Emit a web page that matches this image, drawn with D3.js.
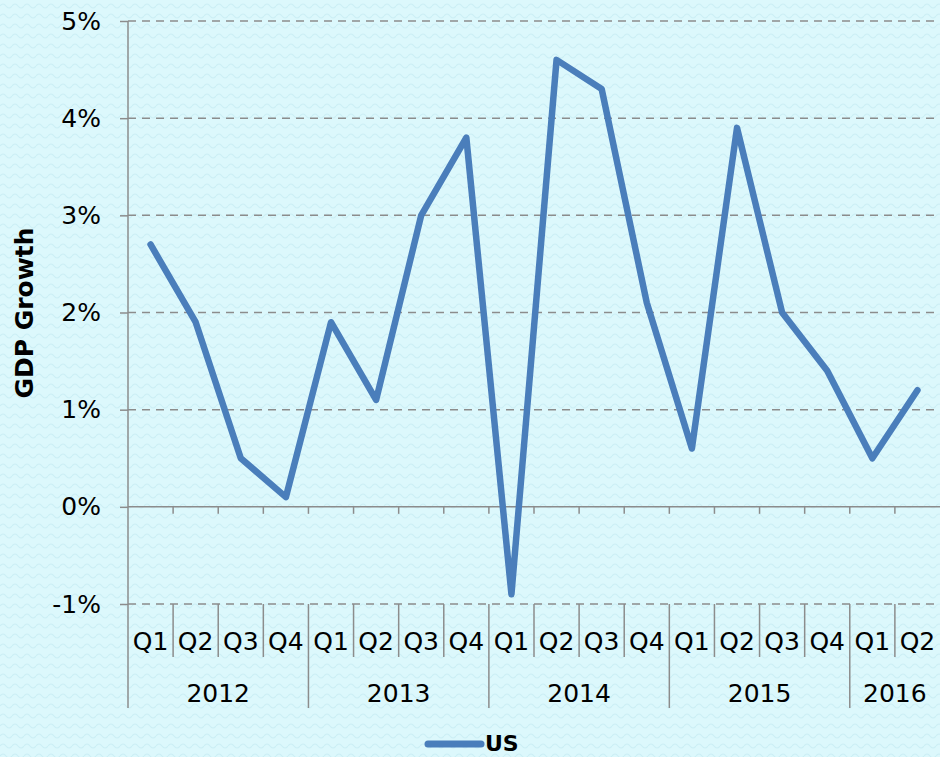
<!DOCTYPE html>
<html>
<head>
<meta charset="utf-8">
<script src="https://cdn.jsdelivr.net/npm/d3@7"></script>
<style>
  html, body { margin: 0; padding: 0; background: #dcf8fc; }
  svg { display: block; }
</style>
</head>
<body>
<div id="chart"></div>
<script>
// data
const years = ["2012", "2013", "2014", "2015", "2016"];
const quarters = ["Q1", "Q2", "Q3", "Q4", "Q1", "Q2", "Q3", "Q4", "Q1", "Q2", "Q3", "Q4",
                  "Q1", "Q2", "Q3", "Q4", "Q1", "Q2"];
const yearOfQuarter = ["2012", "2012", "2012", "2012", "2013", "2013", "2013", "2013",
                       "2014", "2014", "2014", "2014", "2015", "2015", "2015", "2015", "2016", "2016"];
const usGrowth = [2.7, 1.9, 0.5, 0.1, 1.9, 1.1, 3.0, 3.8, -0.9, 4.6, 4.3, 2.1,
                  0.6, 3.9, 2.0, 1.4, 0.5, 1.2];
const yTicks = [-1, 0, 1, 2, 3, 4, 5];

const width = 940;
const height = 757;
const margin = { top: 21, right: 0, bottom: 153, left: 128 };
const font = "DejaVu Sans, Verdana, sans-serif";
const axisGrey = "#8c8c8c";

const svg = d3.select("#chart")
  .append("svg")
  .attr("width", width)
  .attr("height", height);

// wavy background pattern
const defs = svg.append("defs");
const pat = defs.append("pattern")
  .attr("id", "wave")
  .attr("patternUnits", "userSpaceOnUse")
  .attr("width", 12)
  .attr("height", 10);
pat.append("rect").attr("width", 12).attr("height", 10).attr("fill", "#dcf8fc");
pat.append("path")
  .attr("d", "M0,6 Q3,2 6,6 T12,6")
  .attr("fill", "none")
  .attr("stroke", "#cbeff5")
  .attr("stroke-width", 1.1);

svg.append("rect")
  .attr("width", width)
  .attr("height", height)
  .attr("fill", "url(#wave)");

const idx = d3.range(usGrowth.length);

const x = d3.scaleBand()
  .domain(idx)
  .range([margin.left, width - margin.right]);

const y = d3.scaleLinear()
  .domain([-1, 5])
  .range([height - margin.bottom, margin.top]);

// dashed gridlines
svg.append("g")
  .selectAll("line")
  .data(yTicks.filter(d => d !== 0))
  .join("line")
  .attr("x1", margin.left)
  .attr("x2", width)
  .attr("y1", d => y(d))
  .attr("y2", d => y(d))
  .attr("stroke", axisGrey)
  .attr("stroke-width", 1.5)
  .attr("stroke-dasharray", "8,6");

// y axis
const yAxis = svg.append("g")
  .attr("transform", `translate(${margin.left},0)`)
  .call(d3.axisLeft(y)
    .tickValues(yTicks)
    .tickSize(8)
    .tickPadding(19)
    .tickFormat(d => d + "%"));
yAxis.select(".domain").remove();
yAxis.selectAll(".tick line").attr("stroke", axisGrey).attr("stroke-width", 1.5);
yAxis.selectAll("text")
  .style("font-family", font)
  .style("font-size", "25px")
  .attr("fill", "#000");

// vertical axis line, reaching down through the category labels
svg.append("line")
  .attr("x1", margin.left)
  .attr("x2", margin.left)
  .attr("y1", y(5))
  .attr("y2", y(-1) + 104)
  .attr("stroke", axisGrey)
  .attr("stroke-width", 1.5);

// zero line with small ticks at category boundaries
svg.append("line")
  .attr("x1", margin.left)
  .attr("x2", width)
  .attr("y1", y(0))
  .attr("y2", y(0))
  .attr("stroke", axisGrey)
  .attr("stroke-width", 1.5);

svg.append("g")
  .selectAll("line")
  .data(idx.slice(1))
  .join("line")
  .attr("x1", d => x(d))
  .attr("x2", d => x(d))
  .attr("y1", y(0))
  .attr("y2", y(0) + 7)
  .attr("stroke", axisGrey)
  .attr("stroke-width", 1.5);

// category separators below the plot
svg.append("g")
  .selectAll("line")
  .data(idx.slice(1))
  .join("line")
  .attr("x1", d => x(d))
  .attr("x2", d => x(d))
  .attr("y1", y(-1))
  .attr("y2", d => y(-1) + (yearOfQuarter[d] !== yearOfQuarter[d - 1] ? 104 : 53))
  .attr("stroke", axisGrey)
  .attr("stroke-width", 1.5);

// quarter labels
svg.append("g")
  .selectAll("text")
  .data(idx)
  .join("text")
  .attr("x", d => x(d) + x.bandwidth() / 2)
  .attr("y", y(-1) + 46)
  .attr("text-anchor", "middle")
  .style("font-family", font)
  .style("font-size", "25px")
  .attr("fill", "#000")
  .text(d => quarters[d]);

// year labels
svg.append("g")
  .selectAll("text")
  .data(years)
  .join("text")
  .attr("x", yr => {
    const q = idx.filter(i => yearOfQuarter[i] === yr);
    return (x(q[0]) + x(q[q.length - 1]) + x.bandwidth()) / 2;
  })
  .attr("y", y(-1) + 98)
  .attr("text-anchor", "middle")
  .style("font-family", font)
  .style("font-size", "25px")
  .attr("fill", "#000")
  .text(d => d);

// series line
const line = d3.line()
  .x(d => x(d) + x.bandwidth() / 2)
  .y(d => y(usGrowth[d]));

svg.append("path")
  .datum(idx)
  .attr("d", line)
  .attr("fill", "none")
  .attr("stroke", "#4a7ebb")
  .attr("stroke-width", 6.5)
  .attr("stroke-linejoin", "round")
  .attr("stroke-linecap", "round");

// y axis title
svg.append("text")
  .attr("transform", "rotate(-90)")
  .attr("x", -313)
  .attr("y", 33)
  .attr("text-anchor", "middle")
  .style("font-family", font)
  .style("font-size", "25px")
  .style("font-weight", "bold")
  .attr("fill", "#000")
  .text("GDP Growth");

// legend
const legend = svg.append("g").attr("transform", "translate(428,744)");
legend.append("line")
  .attr("x1", 0)
  .attr("x2", 53)
  .attr("stroke", "#4a7ebb")
  .attr("stroke-width", 7)
  .attr("stroke-linecap", "round");
legend.append("text")
  .attr("x", 57)
  .attr("y", 7)
  .style("font-family", font)
  .style("font-size", "22px")
  .style("font-weight", "bold")
  .attr("fill", "#000")
  .text("US");
</script>
</body>
</html>
